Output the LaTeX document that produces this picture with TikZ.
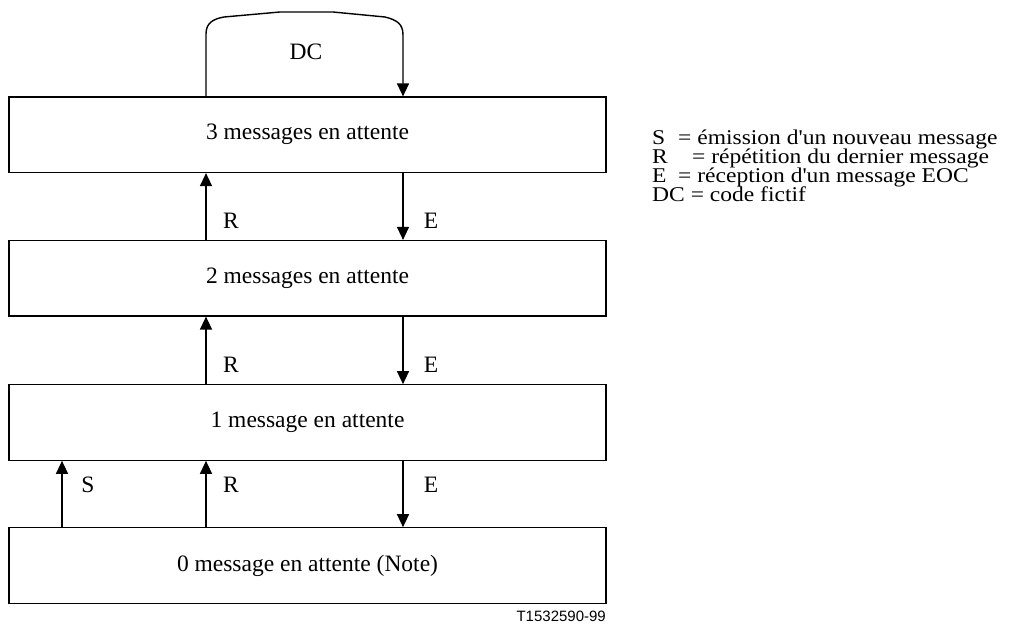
\documentclass[tikz,border=0pt]{standalone}
\usepackage{fontspec}
\setmainfont{Liberation Serif}
\setsansfont{Liberation Sans}
\newfontfamily\legendfont[FakeStretch=1.12]{Liberation Serif}
\usetikzlibrary{arrows.meta}
\begin{document}
\begin{tikzpicture}[x=1pt,y=-1pt,
  txt/.style={font=\fontsize{23.5}{28}\selectfont},
  state/.style={draw, line width=1.2pt, inner sep=0pt, minimum width=597pt,
    minimum height=75.5pt, txt},
  arr/.style={line width=1.4pt, -{Triangle[length=13pt,width=12pt]}},
  lbl/.style={txt, inner sep=0pt},
  leg/.style={font=\legendfont\fontsize{21}{18}\selectfont, inner sep=0pt, anchor=base west}]
\useasboundingbox (0,0) rectangle (1016,623);

% states
\node[state] (b3) at (307.5,134.75) {3 messages en attente};
\node[state] (b2) at (307.5,278.25) {2 messages en attente};
\node[state] (b1) at (307.5,422.5) {1 message en attente};
\node[state] (b0) at (307.5,565.5) {0 message en attente (Note)};

% columns of the transitions
\coordinate (xS) at (62,0);
\coordinate (xR) at (206,0);
\coordinate (xE) at (403,0);

% S : 0 -> 1
\draw[arr] (b0.north -| xS) -- (b1.south -| xS);
% R : repeat upwards
\draw[arr] (b0.north -| xR) -- (b1.south -| xR);
\draw[arr] (b1.north -| xR) -- (b2.south -| xR);
\draw[arr] (b2.north -| xR) -- (b3.south -| xR);
% E : downwards
\draw[arr] (b3.south -| xE) -- (b2.north -| xE);
\draw[arr] (b2.south -| xE) -- (b1.north -| xE);
\draw[arr] (b1.south -| xE) -- (b0.north -| xE);

% DC loop on the top state
\draw[arr] (b3.north -| xR) -- (206,34)
  .. controls (206,23) and (213,19) .. (224,17) -- (280,12) -- (333,12)
  -- (385,17) .. controls (397,20) and (403,24) .. (403,35)
  -- (b3.north -| xE);
\node[lbl] (dc) at (306,52) {DC};

% transition labels
\node[lbl] (r3) at (231,221) {R};
\node[lbl] (e3) at (431,221) {E};
\node[lbl] (r2) at (231,365) {R};
\node[lbl] (e2) at (431,365) {E};
\node[lbl] (s1) at (88,485) {S};
\node[lbl] (r1) at (231,485) {R};
\node[lbl] (e1) at (431,485) {E};

% legend
\node[leg] (kS) at (652,144) {S};
\node[leg] (dS) at (678,144) {= émission d'un nouveau message};
\node[leg] (kR) at (652,163) {R};
\node[leg] (dR) at (692,163) {= répétition du dernier message};
\node[leg] (kE) at (652,182) {E};
\node[leg] (dE) at (678,182) {= réception d'un message EOC};
\node[leg] (kD) at (652,201) {DC = code fictif};

% figure reference
\node[inner sep=0pt, anchor=east, font=\sffamily\fontsize{15}{18}\selectfont] (ref) at (606,616) {T1532590-99};
\end{tikzpicture}
\end{document}
